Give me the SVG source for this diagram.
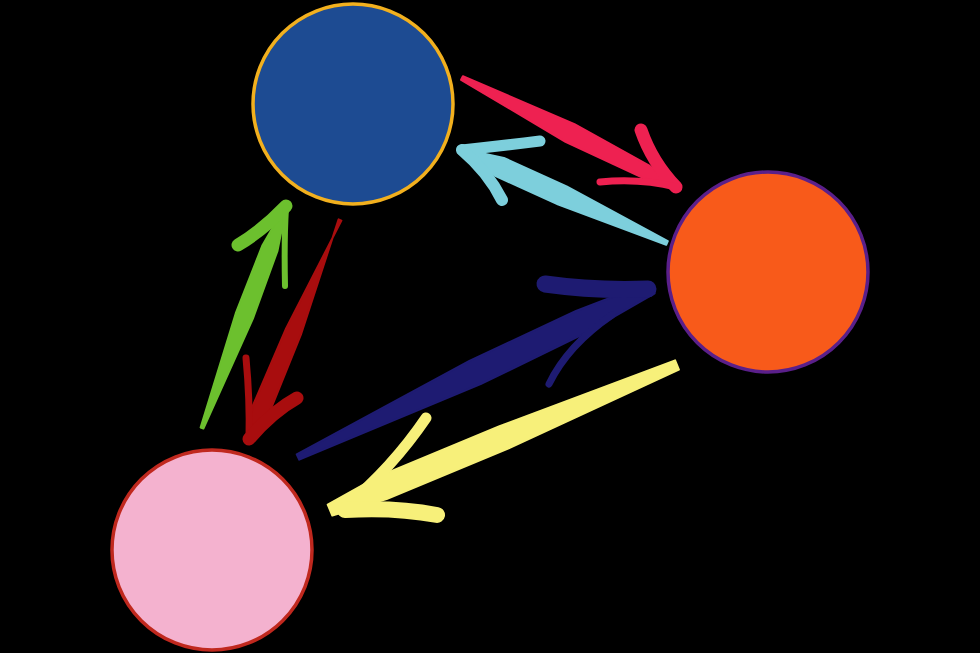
<svg xmlns="http://www.w3.org/2000/svg" width="980" height="653" viewBox="0 0 980 653">
<style>
.barb{fill:none;stroke-linecap:round;stroke-linejoin:round}
.shaft{stroke-width:2;stroke-linejoin:round}
.node{stroke-width:3.5}
</style>
<rect width="980" height="653" fill="#000"/>
<g id="connectors">
<g id="a-blue-orange" fill="#ee2151" stroke="#ee2151">
<path class="shaft" d="M462.9,76.2 L574.5,124.1 L648.8,165.3 L678,188 L642.4,177.7 L565.5,141.9 L461.1,79.8 Z"/>
<path class="barb" d="M641,130 Q652,162 676,187" stroke-width="13"/>
<path class="barb" d="M600,182 Q640,178 676,187" stroke-width="7"/>
</g>
<g id="a-orange-blue" fill="#7dcfdc" stroke="#7dcfdc">
<path class="shaft" d="M667.8,241.2 L566.6,186.4 L503.9,157.9 L458,148 L495.7,176.1 L558.4,204.6 L666.2,244.8 Z"/>
<path class="barb" d="M540,141 Q500,146 462,150" stroke-width="11"/>
<path class="barb" d="M502,200 Q488,172 462,150" stroke-width="12"/>
</g>
<g id="a-pink-blue" fill="#6cc02e" stroke="#6cc02e">
<path class="shaft" d="M203.4,428.5 L252.9,318.7 L277.5,250.8 L287,203 L262.5,245.2 L236.1,312.3 L200.6,427.5 Z"/>
<path class="barb" d="M238,245 Q263,230 286,206" stroke-width="13"/>
<path class="barb" d="M285,286 Q284,240 286,208" stroke-width="6"/>
</g>
<g id="a-blue-pink" fill="#a80d0e" stroke="#a80d0e">
<path class="shaft" d="M338.6,219.4 L300.9,334.6 L269.3,413 L247,443 L252.7,406 L286.1,328.4 L341.4,220.6 Z"/>
<path class="barb" d="M246,358 Q250,400 249,439" stroke-width="7"/>
<path class="barb" d="M297,398 Q272,412 249,439" stroke-width="13"/>
</g>
<g id="a-pink-orange" fill="#1e1b72" stroke="#1e1b72">
<path class="shaft" d="M299.3,459.7 L480.6,384.2 L586.4,332.6 L654.6,293.4 L649.4,282.6 L576,311 L469.4,360.8 L296.7,454.3 Z"/>
<path class="barb" d="M545,284 Q595,291 648,289" stroke-width="17"/>
<path class="barb" d="M549,384 Q568,345 612,315" stroke-width="7"/>
</g>
<g id="a-orange-pink" fill="#f7f07a" stroke="#f7f07a">
<path class="shaft" d="M675.1,360.4 L498.9,426.4 L377.4,476.9 L327.7,504.5 L332.3,515.5 L386.6,499.1 L508.1,448.6 L678.9,369.6 Z"/>
<path class="barb" d="M426,418 Q392,468 345,507" stroke-width="11"/>
<path class="barb" d="M437,515 Q395,507 345,510" stroke-width="16"/>
</g>
</g>
<g id="node-blue"><circle class="node" cx="353" cy="104" r="100" fill="#1d4b92" stroke="#f2b01e"/></g>
<g id="node-orange"><circle class="node" cx="768" cy="272" r="100" fill="#f85a1a" stroke="#5a1f8a"/></g>
<g id="node-pink"><circle class="node" cx="212" cy="550" r="100" fill="#f4b2cf" stroke="#c0281e"/></g>
</svg>
